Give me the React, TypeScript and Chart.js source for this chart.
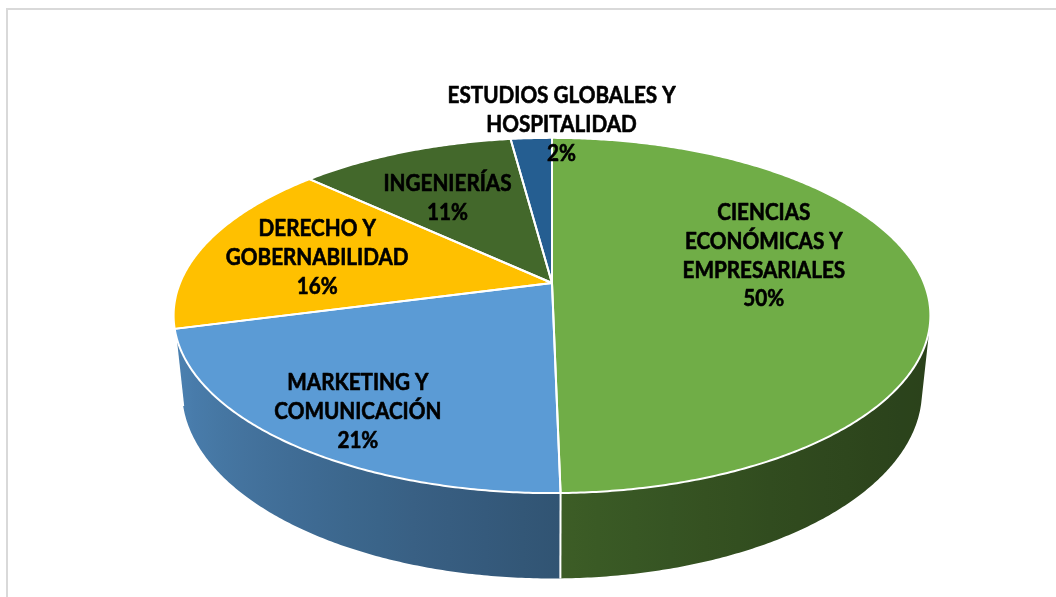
import React, { useEffect, useRef } from "react";
import { Chart, registerables } from "chart.js";

Chart.register(...registerables);

// ---- data ----
const categories = [
  "CIENCIAS ECONÓMICAS Y EMPRESARIALES",
  "MARKETING Y COMUNICACIÓN",
  "DERECHO Y GOBERNABILIDAD",
  "INGENIERÍAS",
  "ESTUDIOS GLOBALES Y HOSPITALIDAD",
];
const categoryLines = [
  ["CIENCIAS", "ECONÓMICAS Y", "EMPRESARIALES"],
  ["MARKETING Y", "COMUNICACIÓN"],
  ["DERECHO Y", "GOBERNABILIDAD"],
  ["INGENIERÍAS"],
  ["ESTUDIOS GLOBALES Y", "HOSPITALIDAD"],
];
const values = [49.7, 21.2, 16.0, 11.0, 2.1];
const topColors = ["#70AD47", "#5B9BD5", "#FFC000", "#43682B", "#255E91"];

// ---- view / style ----
const W = 1056;
const H = 597;
const ELEV_SIN = 0.4615;
const ELEV_COS = Math.sqrt(1 - ELEV_SIN * ELEV_SIN);
const DIST = 4.85;
const THICK = 0.231;
const HALF_W_FACTOR = 2.0;
const FONT = "bold 22px Lato, 'Open Sans', sans-serif";
const TEXT_SCALE_X = 0.94;
const LINE_H = 28.7;
const labelPlace = [
  { f: 0.57, dx: 0, dy: -26 },
  { f: 0.8, dx: 9, dy: 5 },
  { f: 0.67, dx: 0, dy: 2 },
  { f: 0.65, dx: -4, dy: 5 },
  { f: 1.1, dx: 32, dy: -1 },
];

function hexToRgb(h: string) {
  const n = parseInt(h.slice(1), 16);
  return [(n >> 16) & 255, (n >> 8) & 255, n & 255];
}
function shade(hex: string, a: number) {
  const r = 0.635 + 0.2516 * Math.cos(a - (201 * Math.PI) / 180);
  const [R, G, B] = hexToRgb(hex);
  return `rgb(${Math.round(R * r)},${Math.round(G * r)},${Math.round(B * r)})`;
}

const pie3d = {
  id: "pie3d",
  beforeDatasetsDraw(chart: any) {
    const ctx: CanvasRenderingContext2D = chart.ctx;
    const meta = chart.getDatasetMeta(0);
    const arcs = meta.data as any[];
    if (!arcs.length) return false;
    const cx = arcs[0].x;
    const cy = arcs[0].y;
    const R = arcs[0].outerRadius;
    const F = HALF_W_FACTOR * R * DIST;
    const Cy = DIST * ELEV_SIN;
    const Cz = DIST * ELEV_COS;
    const proj = (u: number, v: number, yy: number) => {
      const dy = yy - Cy;
      const dz = v - Cz;
      const depth = -(dy * ELEV_SIN + dz * ELEV_COS);
      const sx = u / depth;
      const sy = (dy * ELEV_COS - dz * ELEV_SIN) / depth;
      return [cx + F * sx, cy - F * sy];
    };
    const top = (a: number, r = 1) => proj(r * Math.cos(a), r * Math.sin(a), 0);
    const bot = (a: number) => proj(Math.cos(a), Math.sin(a), -THICK);
    const step = Math.PI / 360;
    const aMin = Math.asin(1 / (DIST * ELEV_COS));
    const aMax = Math.PI - aMin;

    ctx.save();
    // frame
    ctx.strokeStyle = "#D9D9D9";
    ctx.lineWidth = 2;
    ctx.strokeRect(7, 9, W + 50, H + 50);

    // walls
    arcs.forEach((arc, i) => {
      const s = Math.max(arc.startAngle, aMin);
      const e = Math.min(arc.endAngle, aMax);
      if (e <= s) return;
      const n = Math.max(2, Math.ceil((e - s) / step));
      ctx.beginPath();
      for (let k = 0; k <= n; k++) {
        const p = top(s + ((e - s) * k) / n);
        if (k === 0) ctx.moveTo(p[0], p[1]);
        else ctx.lineTo(p[0], p[1]);
      }
      for (let k = n; k >= 0; k--) {
        const p = bot(s + ((e - s) * k) / n);
        ctx.lineTo(p[0], p[1]);
      }
      ctx.closePath();
      const xs = [top(s)[0], top(e)[0], bot(s)[0], bot(e)[0]];
      const xl = Math.min(...xs);
      const xr = Math.max(...xs);
      const base = topColors[i % topColors.length];
      const grad = ctx.createLinearGradient(xl, 0, xr, 0);
      for (let m = 0; m <= 16; m++) {
        const a = s + ((e - s) * m) / 16;
        const x = top(a)[0];
        const t = Math.min(1, Math.max(0, (x - xl) / Math.max(1, xr - xl)));
        grad.addColorStop(t, shade(base, a));
      }
      ctx.fillStyle = grad;
      ctx.fill();
    });
    // wall separators
    ctx.strokeStyle = "#FFFFFF";
    ctx.lineWidth = 2;
    arcs.forEach((arc) => {
      const a = arc.startAngle;
      if (a > aMin && a < aMax) {
        const p = top(a);
        const q = bot(a);
        ctx.beginPath();
        ctx.moveTo(p[0], p[1]);
        ctx.lineTo(q[0], q[1]);
        ctx.stroke();
      }
    });

    // top faces
    const facePath = (arc: any) => {
      const s = arc.startAngle;
      const e = arc.endAngle;
      const n = Math.max(2, Math.ceil((e - s) / step));
      ctx.beginPath();
      const c = top(0, 0);
      ctx.moveTo(c[0], c[1]);
      for (let k = 0; k <= n; k++) {
        const p = top(s + ((e - s) * k) / n);
        ctx.lineTo(p[0], p[1]);
      }
      ctx.closePath();
    };
    arcs.forEach((arc, i) => {
      facePath(arc);
      ctx.fillStyle = topColors[i % topColors.length];
      ctx.fill();
    });
    ctx.lineJoin = "round";
    arcs.forEach((arc) => {
      facePath(arc);
      ctx.strokeStyle = "#FFFFFF";
      ctx.lineWidth = 2;
      ctx.stroke();
    });

    // labels
    const total = values.reduce((a, b) => a + b, 0);
    ctx.font = FONT;
    ctx.fillStyle = "#000000";
    ctx.strokeStyle = "#000000";
    ctx.lineWidth = 0.6;
    ctx.lineJoin = "round";
    ctx.textAlign = "center";
    ctx.textBaseline = "middle";
    arcs.forEach((arc, i) => {
      const mid = (arc.startAngle + arc.endAngle) / 2;
      const pl = labelPlace[i];
      const p = top(mid, pl.f);
      const lines = [...categoryLines[i], `${Math.round((values[i] / total) * 100)}%`];
      const x = p[0] + pl.dx;
      const y0 = p[1] + pl.dy - ((lines.length - 1) * LINE_H) / 2;
      lines.forEach((ln, j) => {
        ctx.save();
        ctx.translate(x, y0 + j * LINE_H);
        ctx.scale(TEXT_SCALE_X, 1);
        ctx.fillText(ln, 0, 0);
        ctx.strokeText(ln, 0, 0);
        ctx.restore();
      });
    });
    ctx.restore();
    return false;
  },
};

export default function App() {
  const ref = useRef<HTMLCanvasElement | null>(null);
  useEffect(() => {
    if (!ref.current) return;
    const chart = new Chart(ref.current, {
      type: "pie",
      data: {
        labels: categories,
        datasets: [
          {
            data: values,
            backgroundColor: topColors,
            borderWidth: 0,
          },
        ],
      },
      options: {
        responsive: false,
        animation: false,
        events: [],
        layout: { padding: { top: 97, bottom: 128, left: 152, right: 104 } },
        plugins: {
          legend: { display: false },
          tooltip: { enabled: false },
        },
      },
      plugins: [pie3d as any],
    });
    return () => chart.destroy();
  }, []);
  return (
    <div style={{ position: "fixed", left: 0, top: 0, width: W, height: H, background: "#fff" }}>
      <canvas ref={ref} width={W} height={H} style={{ display: "block", width: W, height: H }} />
    </div>
  );
}
